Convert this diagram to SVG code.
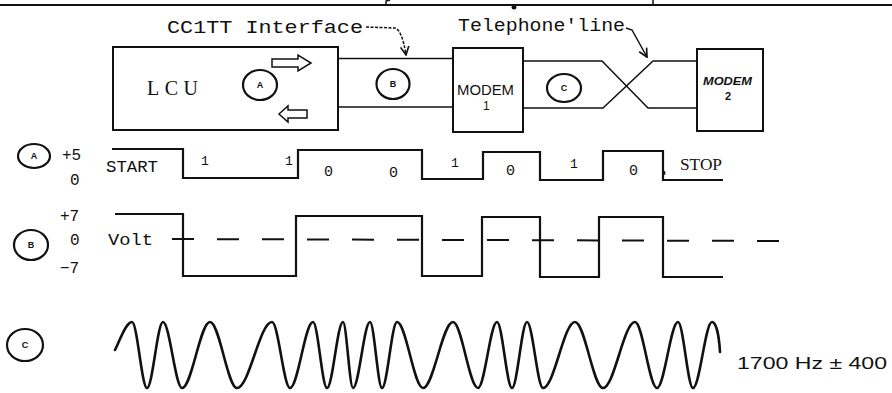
<svg xmlns="http://www.w3.org/2000/svg" width="892" height="393" viewBox="0 0 892 393">
  <defs>
    <style>
      .ln { fill: none; stroke: #111; stroke-width: 2; stroke-linecap: square; }
      .thin { fill: none; stroke: #111; stroke-width: 1.5; }
      .box { fill: #fff; stroke: #111; stroke-width: 2; }
      .ring { fill: none; stroke: #111; stroke-width: 2.2; }
      .mono { font-family: "Liberation Mono", "DejaVu Sans Mono", monospace; fill: #111; }
      .serif { font-family: "Liberation Serif", "DejaVu Serif", serif; fill: #111; }
      .sans { font-family: "Liberation Sans", "DejaVu Sans", sans-serif; fill: #111; }
      .tag { font-family: "Liberation Sans", "DejaVu Sans", sans-serif; font-weight: bold; font-size: 9px; fill: #111; text-anchor: middle; }
      .wave { fill: none; stroke: #111; stroke-width: 2.6; stroke-linejoin: round; stroke-linecap: round; }
      .sq { fill: none; stroke: #111; stroke-width: 2.2; stroke-linejoin: miter; }
    </style>
    <marker id="tip" viewBox="0 0 10 10" refX="9" refY="5" markerWidth="7" markerHeight="7" orient="auto">
      <path d="M1,1 L9,5 L1,9" fill="none" stroke="#111" stroke-width="1.6"/>
    </marker>
  </defs>

  <!-- rule across the top with leftover ticks -->
  <g id="top-rule">
    <line class="ln" x1="0" y1="5" x2="892" y2="5"/>
    <path class="thin" d="M386,5 L386,1 L390,0"/>
    <line class="thin" x1="653" y1="0" x2="653" y2="5"/>
    <ellipse cx="514" cy="7.5" rx="2.5" ry="2" fill="#111"/>
  </g>

  <!-- lines between the units -->
  <g id="connectors">
    <line class="thin" x1="338" y1="58.5" x2="453" y2="58.5"/>
    <line class="thin" x1="338" y1="107" x2="453" y2="107"/>
    <polyline class="thin" points="523,61 602,61 648,108 697,108"/>
    <polyline class="thin" points="523,108 603,108 653,61 697,61"/>
    <path class="thin" d="M366,27 L395,28 Q402,30 406,55" stroke-dasharray="3 1.5" marker-end="url(#tip)"/>
    <path class="thin" d="M626,28 L632,30 L647,57" marker-end="url(#tip)"/>
  </g>

  <g id="label-ccitt">
    <text class="mono" x="167" y="33" font-size="19" textLength="196" lengthAdjust="spacingAndGlyphs">CC1TT Interface</text>
  </g>
  <g id="label-telephone">
    <text class="mono" x="458" y="31" font-size="19" textLength="167" lengthAdjust="spacingAndGlyphs">Telephone'line</text>
  </g>

  <g id="lcu">
    <rect class="box" x="113" y="47" width="225" height="83" stroke-width="1.8"/>
    <text class="serif" x="147" y="95" font-size="20" textLength="51" lengthAdjust="spacing">LCU</text>
    <ellipse class="ring" cx="260" cy="85" rx="17" ry="15"/>
    <text class="tag" x="260" y="88">A</text>
    <polygon class="thin" points="272,59 298,59 298,55 311,63 298,71 298,67 272,67"/>
    <polygon class="thin" points="279,114 288,106 288,110 307,110 307,118 288,118 288,122"/>
  </g>

  <g id="tag-b">
    <ellipse class="ring" cx="393" cy="84" rx="16.5" ry="15"/>
    <text class="tag" x="393" y="87">B</text>
  </g>

  <g id="modem-1">
    <rect class="box" x="453" y="48" width="70" height="84"/>
    <text class="sans" x="457" y="95" font-size="14" textLength="57" lengthAdjust="spacingAndGlyphs">MODEM</text>
    <text class="sans" x="483" y="110" font-size="12">1</text>
  </g>

  <g id="tag-c">
    <ellipse class="ring" cx="564" cy="88" rx="17" ry="14"/>
    <text class="tag" x="564" y="91">C</text>
  </g>

  <g id="modem-2">
    <rect class="box" x="697" y="49" width="66" height="82" stroke-width="2.6"/>
    <text class="sans" x="703" y="85" font-size="10" font-weight="bold" font-style="italic" textLength="49" lengthAdjust="spacingAndGlyphs">MODEM</text>
    <text class="sans" x="725" y="100" font-size="11" font-weight="bold">2</text>
  </g>

  <!-- trace A: logic levels -->
  <g id="trace-a">
    <ellipse class="ring" cx="34" cy="156" rx="16" ry="12"/>
    <text class="tag" x="34" y="159">A</text>
    <text class="mono" x="62" y="160" font-size="16">+5</text>
    <text class="mono" x="70" y="185" font-size="16">0</text>
    <text class="mono" x="106" y="172" font-size="16" textLength="52" lengthAdjust="spacingAndGlyphs">START</text>
    <polyline class="sq" points="112,149 183,149 183,178 298,178 298,150 422,150 422,179 483,179 483,152 540,152 540,180 603,180 603,151 663,151 663,180 723,180"/>
    <g class="mono" font-size="13">
      <text x="201" y="165">1</text>
      <text x="285" y="165">1</text>
      <text x="451" y="167">1</text>
      <text x="570" y="168">1</text>
    </g>
    <g class="mono" font-size="15">
      <text x="324" y="176">0</text>
      <text x="389" y="177">0</text>
      <text x="506" y="175">0</text>
      <text x="629" y="175">0</text>
    </g>
    <ellipse cx="664" cy="173" rx="1.5" ry="2" fill="#111"/>
    <text class="serif" x="680" y="170" font-size="16" textLength="42" lengthAdjust="spacingAndGlyphs">STOP</text>
  </g>

  <!-- trace B: line voltage -->
  <g id="trace-b">
    <ellipse class="ring" cx="31" cy="245" rx="17" ry="15"/>
    <text class="tag" x="31" y="248">B</text>
    <text class="mono" x="60" y="221" font-size="16">+7</text>
    <text class="mono" x="70" y="245" font-size="16">0</text>
    <text class="mono" x="60" y="273" font-size="16">−7</text>
    <text class="mono" x="108" y="245" font-size="17" textLength="45" lengthAdjust="spacingAndGlyphs">Volt</text>
    <line x1="172" y1="239" x2="780" y2="241" stroke="#111" stroke-width="2" stroke-dasharray="22 23"/>
    <polyline class="sq" points="115,214 183,214 183,276 296,276 296,216 422,216 422,276 482,276 482,217 540,217 540,277 599,277 599,217 663,217 663,277 723,277"/>
  </g>

  <!-- trace C: FSK carrier -->
  <g id="trace-c">
    <ellipse class="ring" cx="25" cy="345" rx="18" ry="16"/>
    <text class="tag" x="25" y="348">C</text>
    <path class="wave" d="M115,350 C120,340 126,322 132,322
      C137.25,322 141.75,388 147,388 C152.6,388 157.4,322 163,322
      C169.65,322 175.35,388 182,388 C191.8,388 200.2,322 210,322
      C219.45,322 227.55,388 237,388 C249.25,388 259.75,322 272,322
      C278.3,322 283.7,388 290,388 C298.05,388 304.95,322 313,322
      C317.9,322 322.1,388 327,388 C332.6,388 337.4,322 343,322
      C346.5,322 349.5,388 353,388 C358.95,388 364.05,322 370,322
      C374.2,322 377.8,388 382,388 C387.25,388 391.75,322 397,322
      C406.1,322 413.9,388 423,388 C433.5,388 442.5,322 453,322
      C461.75,322 469.25,388 478,388 C484.65,388 490.35,322 497,322
      C502.25,322 506.75,388 512,388 C517.25,388 521.75,322 527,322
      C532.6,322 537.4,388 543,388 C554.2,388 563.8,322 575,322
      C584.8,322 593.2,388 603,388 C614.2,388 623.8,322 635,322
      C642.7,322 649.3,388 657,388 C664.35,388 670.65,322 678,322
      C683.25,322 687.75,388 693,388 C699.65,388 705.35,322 712,322
      C716,322 719,335 720,352"/>
    <text class="sans" x="737" y="369" font-size="16" textLength="150" lengthAdjust="spacingAndGlyphs">1700 Hz ± 400</text>
  </g>
</svg>
